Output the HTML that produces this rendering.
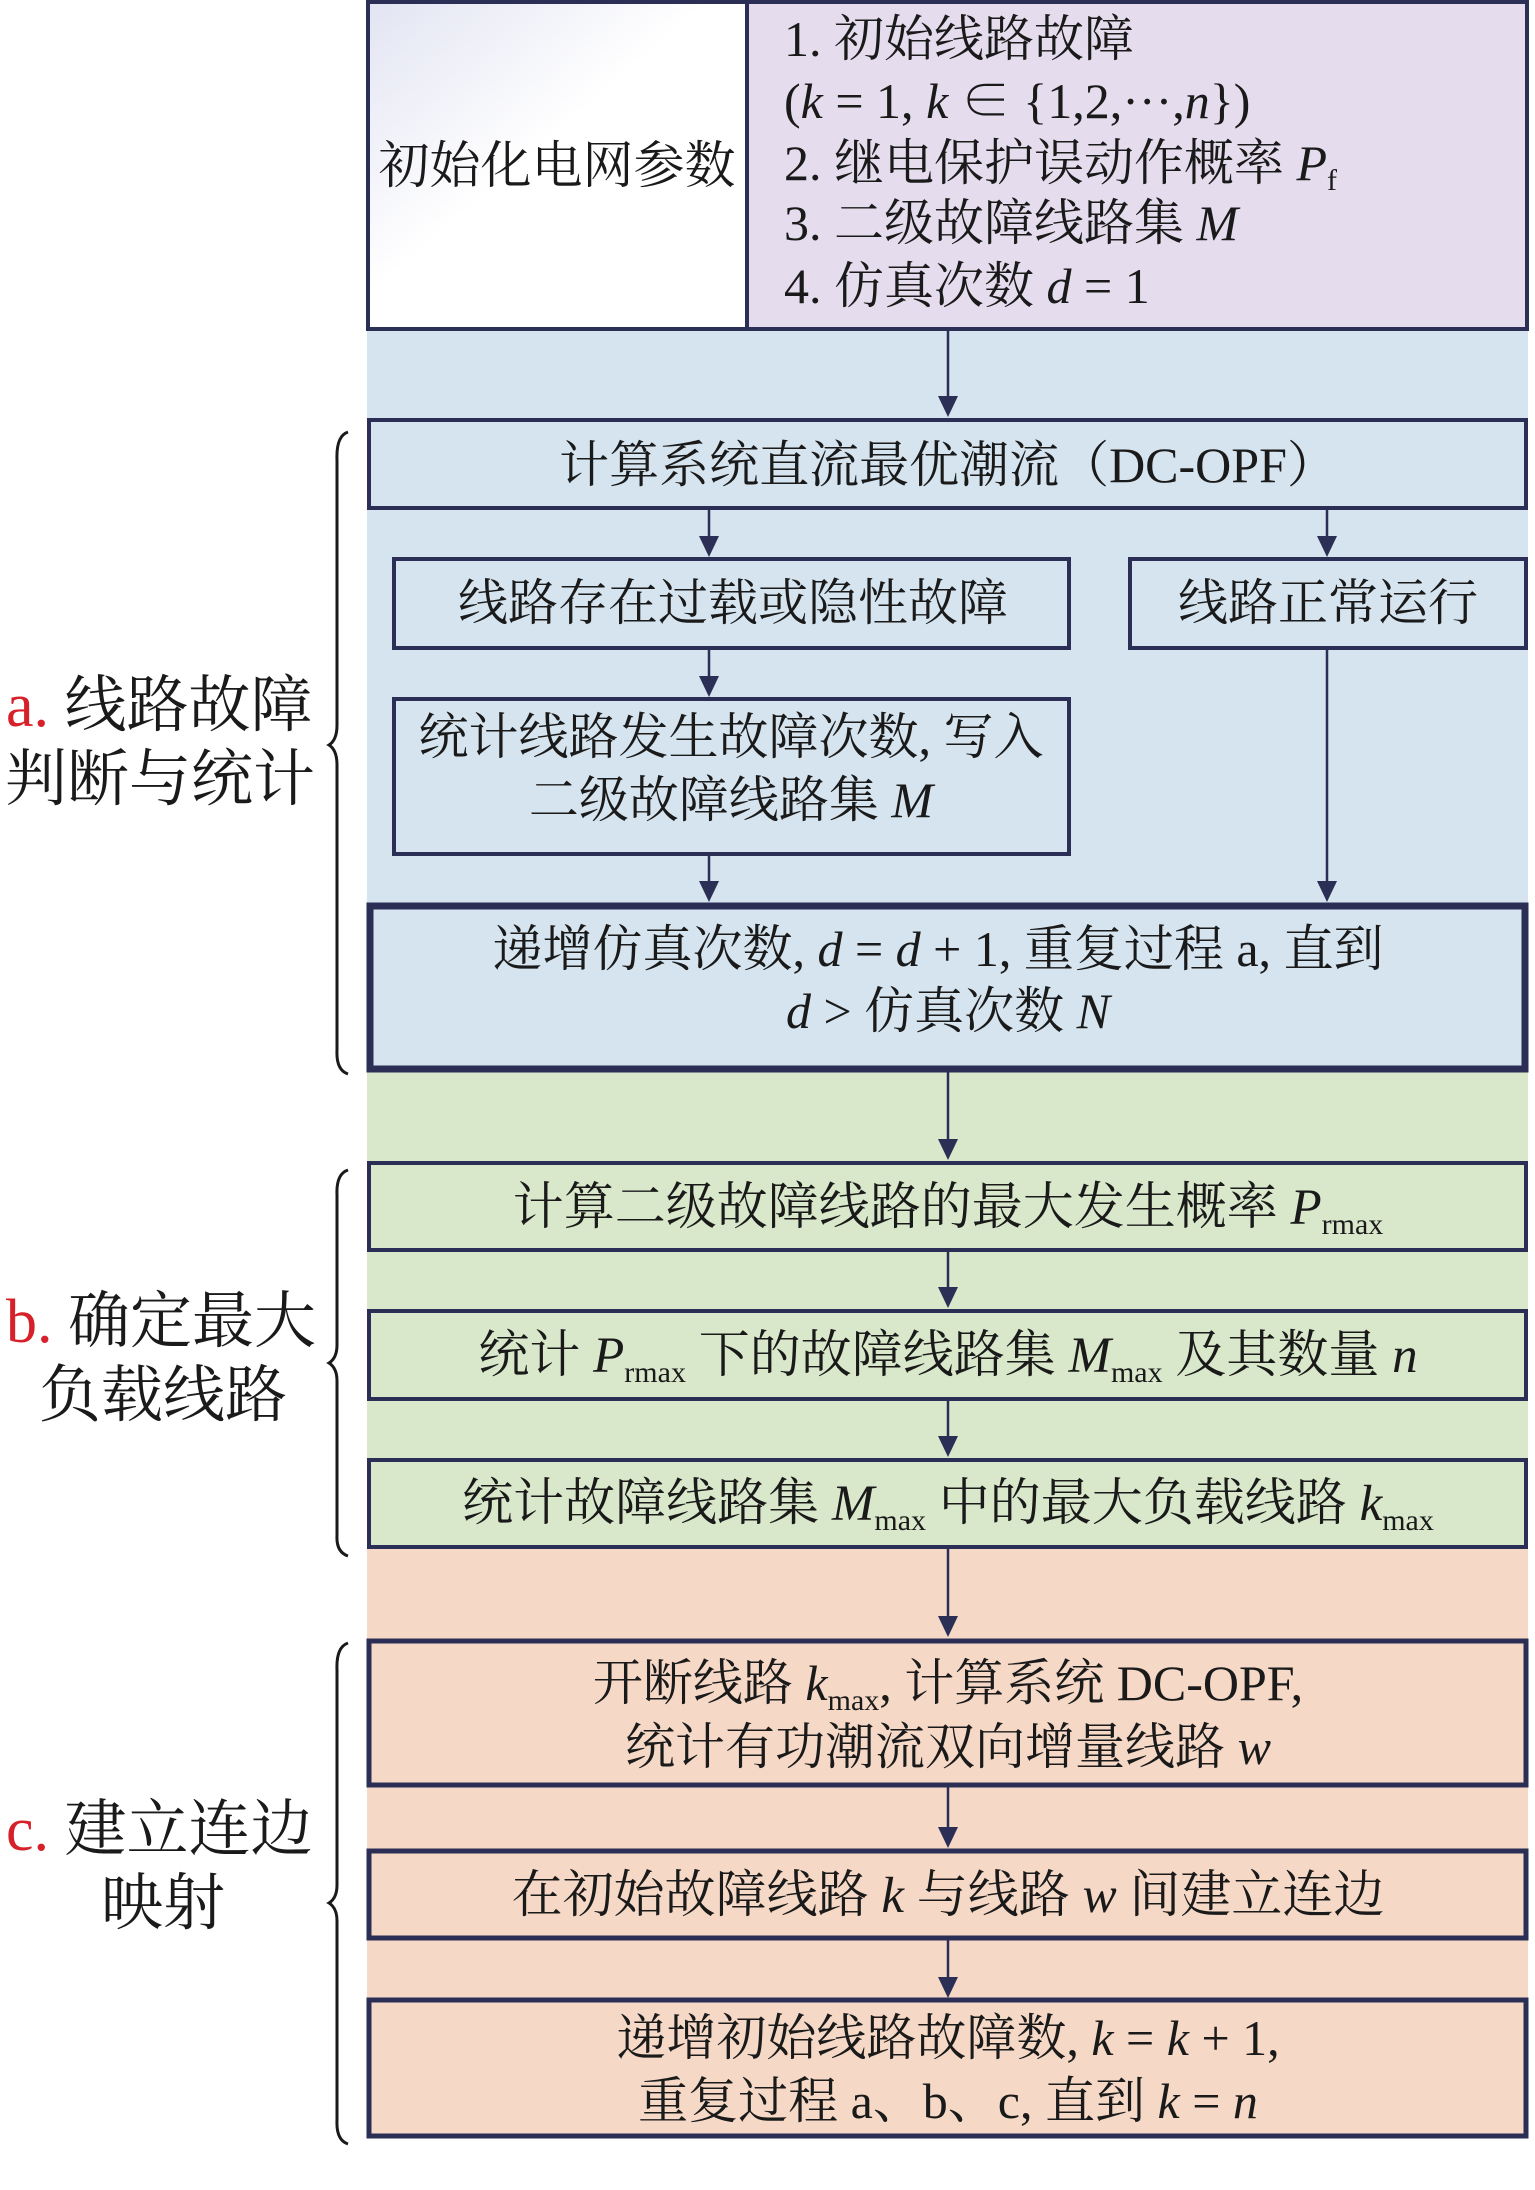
<!DOCTYPE html>
<html><head><meta charset="utf-8"><style>
html,body{margin:0;padding:0;background:#fff;}
svg{display:block;}
text{font-family:"Liberation Serif","Noto Serif CJK SC",serif;fill:#1a1a1a;}
.t{font-size:50px;text-anchor:middle;}
.l{font-size:62px;}
.i{font-style:italic;}
.s{font-size:30px;}
</style></head><body>
<svg width="1535" height="2190" viewBox="0 0 1535 2190" xmlns="http://www.w3.org/2000/svg">
<defs>
<linearGradient id="g" x1="0" y1="0" x2="1" y2="1">
<stop offset="0" stop-color="#e2e4f2"/><stop offset="0.45" stop-color="#ffffff"/><stop offset="1" stop-color="#ffffff"/>
</linearGradient>
</defs>
<rect x="367" y="330" width="1161" height="742" fill="#d5e4ef"/>
<rect x="367" y="1072" width="1161" height="476" fill="#d9e8cb"/>
<rect x="367" y="1548" width="1161" height="590" fill="#f5d8c6"/>
<rect x="368" y="2" width="379" height="327" fill="url(#g)"/>
<rect x="747" y="2" width="780" height="327" fill="#e5ddee"/>
<rect x="368" y="2" width="1159" height="327" fill="none" stroke="#2b2f55" stroke-width="4"/>
<line x1="747" y1="2" x2="747" y2="329" stroke="#2b2f55" stroke-width="4"/>
<text class="t" x="557" y="183" style="font-size:51px">初始化电网参数</text>
<g style="font-size:50px">
<text x="784" y="56">1. 初始线路故障</text>
<text x="784" y="118">(<tspan class="i">k</tspan> = 1, <tspan class="i">k</tspan> ∈ {1,2,···,<tspan class="i">n</tspan>})</text>
<text x="784" y="180">2. 继电保护误动作概率 <tspan class="i">P</tspan><tspan class="s" dy="10">f</tspan></text>
<text x="784" y="240">3. 二级故障线路集 <tspan class="i">M</tspan></text>
<text x="784" y="303">4. 仿真次数 <tspan class="i">d</tspan> = 1</text>
</g>
<g stroke="#2b2f55" stroke-width="2.5" fill="none">
<line x1="948" y1="331" x2="948" y2="400"/>
<line x1="709" y1="509" x2="709" y2="540"/>
<line x1="1327" y1="509" x2="1327" y2="540"/>
<line x1="709" y1="649" x2="709" y2="680"/>
<line x1="709" y1="854" x2="709" y2="885"/>
<line x1="1327" y1="649" x2="1327" y2="885"/>
<line x1="948" y1="1072" x2="948" y2="1143"/>
<line x1="948" y1="1251" x2="948" y2="1291"/>
<line x1="948" y1="1400" x2="948" y2="1440"/>
<line x1="948" y1="1548" x2="948" y2="1620"/>
<line x1="948" y1="1786" x2="948" y2="1831"/>
<line x1="948" y1="1939" x2="948" y2="1981"/>
</g>
<g fill="#2b2f55">
<polygon points="938,396 958,396 948,417"/>
<polygon points="699,536 719,536 709,557"/>
<polygon points="1317,536 1337,536 1327,557"/>
<polygon points="699,676 719,676 709,697"/>
<polygon points="699,881 719,881 709,902"/>
<polygon points="1317,881 1337,881 1327,902"/>
<polygon points="938,1139 958,1139 948,1160"/>
<polygon points="938,1287 958,1287 948,1308"/>
<polygon points="938,1436 958,1436 948,1457"/>
<polygon points="938,1616 958,1616 948,1637"/>
<polygon points="938,1827 958,1827 948,1848"/>
<polygon points="938,1977 958,1977 948,1998"/>
</g>
<g fill="none" stroke="#2b2f55" stroke-width="4">
<rect x="369" y="420" width="1157" height="88"/>
<rect x="394" y="559" width="675" height="89"/>
<rect x="1130" y="559" width="396" height="89"/>
<rect x="394" y="699" width="675" height="155"/>
<rect x="370" y="906" width="1155" height="163" stroke-width="7"/>
<rect x="369" y="1163" width="1157" height="87"/>
<rect x="369" y="1311" width="1157" height="88"/>
<rect x="369" y="1460" width="1157" height="87"/>
<rect x="369" y="1641" width="1157" height="144" stroke-width="5"/>
<rect x="369" y="1851" width="1157" height="87" stroke-width="5"/>
<rect x="369" y="2000" width="1157" height="136" stroke-width="5"/>
</g>
<text class="t" x="948" y="482">计算系统直流最优潮流（DC-OPF）</text>
<text class="t" x="733" y="620">线路存在过载或隐性故障</text>
<text class="t" x="1328" y="620">线路正常运行</text>
<text class="t" x="731" y="754">统计线路发生故障次数, 写入</text>
<text class="t" x="731" y="817">二级故障线路集 <tspan class="i">M</tspan></text>
<text class="t" x="938" y="966">递增仿真次数, <tspan class="i">d</tspan> = <tspan class="i">d</tspan> + 1, 重复过程 a, 直到</text>
<text class="t" x="948" y="1028"><tspan class="i">d</tspan> &gt; 仿真次数 <tspan class="i">N</tspan></text>
<text class="t" x="948" y="1224" style="font-size:51px">计算二级故障线路的最大发生概率 <tspan class="i">P</tspan><tspan class="s" dy="10">rmax</tspan></text>
<text class="t" x="948" y="1372" style="font-size:51px">统计 <tspan class="i">P</tspan><tspan class="s" dy="10">rmax</tspan><tspan dy="-10"> 下的故障线路集 </tspan><tspan class="i">M</tspan><tspan class="s" dy="10">max</tspan><tspan dy="-10"> 及其数量 </tspan><tspan class="i">n</tspan></text>
<text class="t" x="948" y="1520" style="font-size:51px">统计故障线路集 <tspan class="i">M</tspan><tspan class="s" dy="10">max</tspan><tspan dy="-10"> 中的最大负载线路 </tspan><tspan class="i">k</tspan><tspan class="s" dy="10">max</tspan></text>
<text class="t" x="948" y="1700">开断线路 <tspan class="i">k</tspan><tspan class="s" dy="10">max</tspan><tspan dy="-10">, 计算系统 DC-OPF,</tspan></text>
<text class="t" x="948" y="1764">统计有功潮流双向增量线路 <tspan class="i">w</tspan></text>
<text class="t" x="948" y="1912" style="font-size:51px">在初始故障线路 <tspan class="i">k</tspan> 与线路 <tspan class="i">w</tspan> 间建立连边</text>
<text class="t" x="948" y="2055">递增初始线路故障数, <tspan class="i">k</tspan> = <tspan class="i">k</tspan> + 1,</text>
<text class="t" x="948" y="2118">重复过程 a、b、c, 直到 <tspan class="i">k</tspan> = <tspan class="i">n</tspan></text>
<g fill="none" stroke="#1a1a1a" stroke-width="3">
<path d="M348,432 Q336,436 337,460 L337,725 Q337,740 329,745 Q337,750 337,765 L337,1050 Q336,1070 348,1074"/>
<path d="M348,1170 Q336,1174 337,1195 L337,1345 Q337,1358 329,1363 Q337,1368 337,1381 L337,1535 Q336,1552 348,1556"/>
<path d="M348,1643 Q336,1647 337,1670 L337,1885 Q337,1898 329,1903 Q337,1908 337,1921 L337,2120 Q336,2140 348,2144"/>
</g>
<text class="l" x="6" y="726"><tspan style="fill:#d7212a">a.</tspan> 线路故障</text>
<text class="l" x="5" y="800">判断与统计</text>
<text class="l" x="6" y="1342"><tspan style="fill:#d7212a">b.</tspan> 确定最大</text>
<text class="l" x="163" y="1416" text-anchor="middle">负载线路</text>
<text class="l" x="6" y="1850"><tspan style="fill:#d7212a">c.</tspan> 建立连边</text>
<text class="l" x="163" y="1924" text-anchor="middle">映射</text>
</svg>
</body></html>
